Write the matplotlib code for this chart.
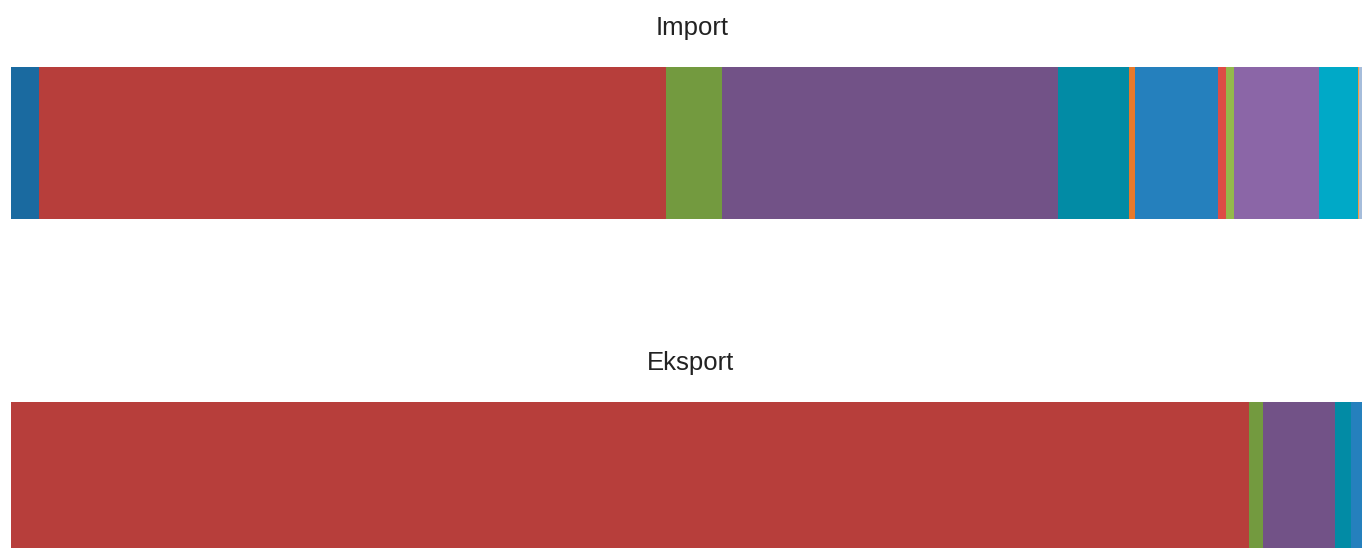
import matplotlib
matplotlib.use("Agg")
from matplotlib import pyplot as plt

# shares in percent
import_values = [2.07, 46.41, 4.15, 24.87, 5.26, 0.44, 6.14, 0.59, 0.59, 6.29, 2.89, 0.07, 0.22]
import_colors = ["#1a6aa0", "#b73e3b", "#739a3f", "#725287", "#028ba5", "#e8792a", "#2580bd",
                 "#de4c45", "#94b94b", "#8b66a7", "#00a9c7", "#f59a3d", "#a6bddb"]
export_values = [91.64, 1.04, 5.33, 1.18, 0.81]
export_colors = ["#b73e3b", "#739a3f", "#725287", "#028ba5", "#2580bd"]

plt.rcParams['font.family'] = ['Liberation Sans', 'DejaVu Sans']

def stacked_bar(ax, values, colors):
    left = 0
    for v, c in zip(values, colors):
        ax.barh(0, v, left=left, height=1, color=c, linewidth=0)
        left += v
    ax.set_xlim(0, sum(values))
    ax.set_ylim(-0.5, 0.5)
    ax.axis("off")

fig = plt.figure(figsize=(13.62, 5.48), dpi=100, facecolor='w')
ax1 = fig.add_axes([11/1362, 329/548, 1351/1362, 152/548])
ax2 = fig.add_axes([11/1362, 0, 1351/1362, 146/548])
stacked_bar(ax1, import_values, import_colors)
stacked_bar(ax2, export_values, export_colors)

fig.text(692/1362, 1 - 35/548, "Import", ha="center", va="baseline", fontsize=18.5, color="#222222")
fig.text(691/1362, 1 - 370/548, "Eksport", ha="center", va="baseline", fontsize=18.5, color="#222222")

plt.savefig("out.png", dpi=100)
